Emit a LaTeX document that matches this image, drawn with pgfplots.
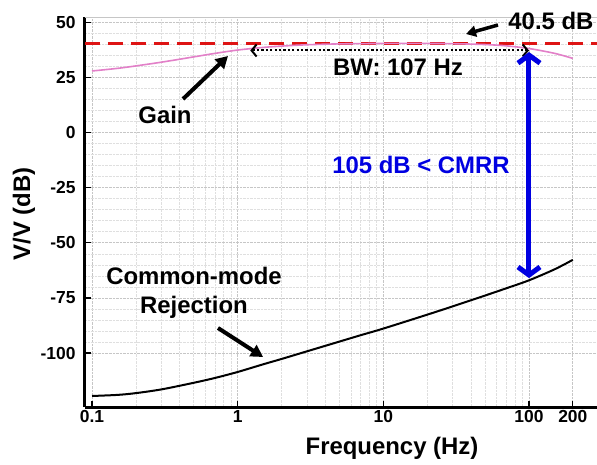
\documentclass[border=0pt]{standalone}
\usepackage{fontspec}
\setmainfont{Liberation Sans}
\usepackage{pgfplots}
\pgfplotsset{compat=1.18}
\usetikzlibrary{arrows.meta}

\definecolor{gainpink}{RGB}{226,128,200}
\definecolor{refred}{RGB}{222,20,20}
\definecolor{cmrrblue}{RGB}{0,0,225}

\newcommand{\annfont}{\fontsize{24}{30}\selectfont\bfseries}

\begin{document}
\begin{tikzpicture}
\path[use as bounding box] (0,0) rectangle (597bp,-465bp);
\begin{axis}[
  at={(85bp,-407bp)}, anchor=south west,
  scale only axis, width=512bp, height=390bp,
  xmode=log, xmin=0.0895, xmax=293,
  ymin=-124.5, ymax=52.5,
  axis x line*=bottom, axis y line*=left,
  axis line style={line width=3bp, black},
  xtick={0.1,1,10,100,200},
  xticklabels={0.1,1,10,100,200},
  minor xtick={0.2,0.3,0.4,0.5,0.6,0.7,0.8,0.9,2,3,4,5,6,7,8,9,20,30,40,50,60,70,80,90,300},
  ytick={-100,-75,-50,-25,0,25,50},
  yticklabels={-100,-75,-50,-25,0,25,50},
  minor y tick num=4,
  tick align=inside,
  major tick length=6bp, minor tick length=0pt,
  tick style={black, line width=1.2bp},
  grid=both,
  major grid style={gray!45, densely dotted, line width=0.8bp},
  minor grid style={gray!25, densely dotted, line width=0.7bp},
  ticklabel style={font=\fontsize{17.5}{20}\selectfont\bfseries},
  yticklabel style={xshift=-6bp},
  clip=false,
]
% top frame line
\draw[gray!45, line width=1bp] (rel axis cs:0,1) -- (rel axis cs:1,1);

% 40.5 dB reference
\addplot[refred, dash pattern=on 15bp off 8bp, line width=3bp]
  coordinates {(0.0895,40.5) (293,40.5)};

% Gain
\addplot[gainpink, line width=1.6bp, smooth] coordinates {
  (0.1,28.0) (0.15,29.2) (0.2,30.3) (0.3,32.0) (0.5,34.4) (0.7,36.0)
  (1,37.5) (1.5,38.7) (2,39.3) (3,39.9) (5,40.3) (10,40.5) (20,40.5)
  (30,40.4) (50,40.0) (70,39.4) (100,38.2) (150,36.0) (200,33.7)
};

% Common-mode rejection
\addplot[black, line width=2bp, smooth] coordinates {
  (0.1,-119.5) (0.15,-119.0) (0.2,-118.2) (0.3,-116.5) (0.5,-113.5)
  (0.7,-111.3) (1,-108.6) (1.5,-105.1) (2,-102.7) (3,-99.2) (5,-94.8)
  (7,-91.9) (10,-88.9) (20,-82.6) (30,-78.8) (50,-73.9) (70,-70.6)
  (100,-67.0) (150,-62.0) (200,-57.7)
};

% bandwidth arrow
\draw[black, dash pattern=on 2.2bp off 2.2bp, line width=2bp,
  {Straight Barb[length=5bp,width=12bp]}-{Straight Barb[length=5bp,width=12bp]}]
  (axis cs:1.22,37.3) -- (axis cs:100,37.3);

% CMRR arrow
\draw[cmrrblue, line width=5bp,
  {Straight Barb[length=8bp,width=22bp]}-{Straight Barb[length=8bp,width=22bp]}]
  (axis cs:100,36.6) -- (axis cs:100,-66);
\end{axis}

% labels
\node[rotate=90, font=\annfont] at (24bp,-214bp) {V/V (dB)};
\node[font=\annfont] at (392bp,-448bp) {Frequency (Hz)};

% annotations
\node[font=\annfont, anchor=east] at (597bp,-21bp) {40.5 dB};
\draw[line width=3.5bp, -{Triangle[length=10bp,width=11bp]}] (498bp,-25bp) -- (466bp,-34bp);
\node[font=\annfont] at (398bp,-67bp) {BW: 107 Hz};
\node[font=\annfont, text=cmrrblue] at (421bp,-165bp) {105 dB < CMRR};
\node[font=\annfont] at (165bp,-115bp) {Gain};
\draw[line width=4bp, -{Triangle[length=12bp,width=13bp]}] (183bp,-99bp) -- (228bp,-56bp);
\node[font=\annfont, align=center] at (194bp,-293bp) {Common-mode\\[-1bp]Rejection};
\draw[line width=4bp, -{Triangle[length=12bp,width=13bp]}] (218bp,-328bp) -- (263bp,-357bp);
\end{tikzpicture}
\end{document}
